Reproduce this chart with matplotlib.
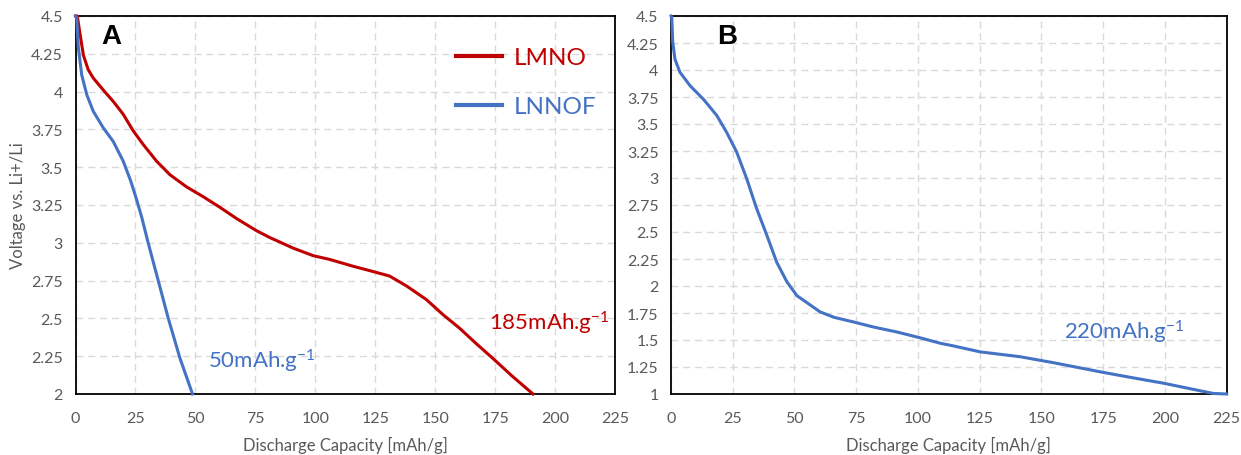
import matplotlib
matplotlib.use("Agg")
import matplotlib.pyplot as plt

plt.rcParams['font.family'] = ['Lato', 'DejaVu Sans']
plt.rcParams['mathtext.fontset'] = 'custom'
plt.rcParams['mathtext.rm'] = 'Lato'
plt.rcParams['mathtext.it'] = 'Lato'

# Panel A - LMNO
lmno_cap = [0, 0.75, 1.9, 3.3, 5.3, 7.4, 11.6, 15.75, 19.9, 24.1, 28.25, 33.8, 39.4,
            46.3, 53.25, 60.2, 67.2, 75.5, 81, 85.2, 90.75, 99.1, 106, 115.75, 124.1,
            131, 138, 146.3, 153.25, 160.2, 167, 174.1, 182, 190.8]
lmno_volt = [4.5, 4.5, 4.38, 4.24, 4.145, 4.09, 4.01, 3.935, 3.85, 3.74, 3.65, 3.54,
             3.45, 3.37, 3.305, 3.235, 3.16, 3.08, 3.035, 3.005, 2.965, 2.915, 2.89,
             2.845, 2.81, 2.78, 2.715, 2.625, 2.525, 2.435, 2.335, 2.235, 2.12, 2.0]

# Panel A - LNNOF
lnnof_cap = [0, 0.5, 1.2, 2.6, 4.7, 7.4, 11.6, 15.75, 19.9, 23.0, 25.4, 27.6, 30.3,
             34.5, 38.7, 43.5, 48.8]
lnnof_volt = [4.5, 4.49, 4.29, 4.11, 3.98, 3.87, 3.76, 3.67, 3.54, 3.41, 3.29, 3.17,
              3.0, 2.75, 2.50, 2.24, 2.0]

# Panel B
b_cap = [0, 0.3, 0.7, 1.6, 3.6, 7.7, 13.1, 18.5, 22.6, 26.6, 30.7, 34.7, 38.8, 42.8,
         46.9, 51, 55.7, 60.4, 66, 73.9, 82, 91.5, 100.9, 109, 114.4, 125.2, 141.4,
         154.8, 175, 187, 199.4, 210, 219.6, 225]
b_volt = [4.5, 4.49, 4.26, 4.10, 3.98, 3.855, 3.73, 3.58, 3.42, 3.24, 2.99, 2.715,
          2.47, 2.22, 2.04, 1.91, 1.835, 1.76, 1.71, 1.667, 1.62, 1.574, 1.52, 1.47,
          1.445, 1.39, 1.345, 1.29, 1.20, 1.15, 1.10, 1.05, 1.005, 1.0]

x_ticks = [0, 25, 50, 75, 100, 125, 150, 175, 200, 225]
ya_ticks = [2, 2.25, 2.5, 2.75, 3, 3.25, 3.5, 3.75, 4, 4.25, 4.5]
yb_ticks = [1, 1.25, 1.5, 1.75, 2, 2.25, 2.5, 2.75, 3, 3.25, 3.5, 3.75, 4, 4.25, 4.5]

RED = '#C00000'
BLUE = '#4472C4'
GRAY = '#595959'

fig = plt.figure(figsize=(12.41, 4.56), dpi=100)
axA = fig.add_axes([75.5 / 1241, 1 - 395 / 456, 539.5 / 1241, 378 / 456])
axB = fig.add_axes([671 / 1241, 1 - 395 / 456, 555.7 / 1241, 378 / 456])

for ax, yt in ((axA, ya_ticks), (axB, yb_ticks)):
    ax.set_xlim(0, 225)
    ax.set_ylim(yt[0], yt[-1])
    ax.set_xticks(x_ticks)
    ax.set_xticklabels(['%g' % v for v in x_ticks])
    ax.set_yticks(yt)
    ax.set_yticklabels(['%g' % v for v in yt])
    ax.tick_params(length=0, labelsize=11.5, labelcolor=GRAY)
    ax.tick_params(axis='x', pad=12)
    ax.tick_params(axis='y', pad=9)
    ax.grid(True, color='#D9D9D9', linewidth=1.0, linestyle=(0, (5, 3.5)))
    ax.set_axisbelow(True)
    for sp in ax.spines.values():
        sp.set_color('black')
        sp.set_linewidth(1.3)
    ax.set_xlabel('Discharge Capacity [mAh/g]', fontsize=12, color=GRAY, labelpad=8)

axA.plot(lmno_cap, lmno_volt, color=RED, lw=2.2, label='LMNO', clip_on=False,
         zorder=3, solid_joinstyle='round')
axA.plot(lnnof_cap, lnnof_volt, color=BLUE, lw=2.2, label='LNNOF', clip_on=False,
         zorder=3, solid_joinstyle='round')
axA.set_ylabel('Voltage vs. Li+/Li', fontsize=12, color=GRAY, labelpad=4)

leg = axA.legend(loc='upper left', bbox_to_anchor=(0.665, 0.975), frameon=False,
                 fontsize=17.5, handlelength=1.9, handletextpad=0.45, labelspacing=1.15,
                 labelcolor='linecolor')
for h in leg.get_lines():
    h.set_linewidth(3)

axA.text(55.4, 2.22, '50mAh.g$^{-1}$', color=BLUE, fontsize=16, va='center', ha='left')
axA.text(172.5, 2.476, '185mAh.g$^{-1}$', color=RED, fontsize=16, va='center', ha='left')
axA.text(0.048, 0.947, 'A', transform=axA.transAxes, fontsize=20, fontweight='bold',
         family='Liberation Sans', va='center', ha='left')

axB.plot(b_cap, b_volt, color=BLUE, lw=2.2, clip_on=False, zorder=3,
         solid_joinstyle='round')
axB.text(159.2, 1.578, '220mAh.g$^{-1}$', color=BLUE, fontsize=16, va='center', ha='left')
axB.text(0.083, 0.947, 'B', transform=axB.transAxes, fontsize=20, fontweight='bold',
         family='Liberation Sans', va='center', ha='left')

fig.savefig('out.png', dpi=100)
